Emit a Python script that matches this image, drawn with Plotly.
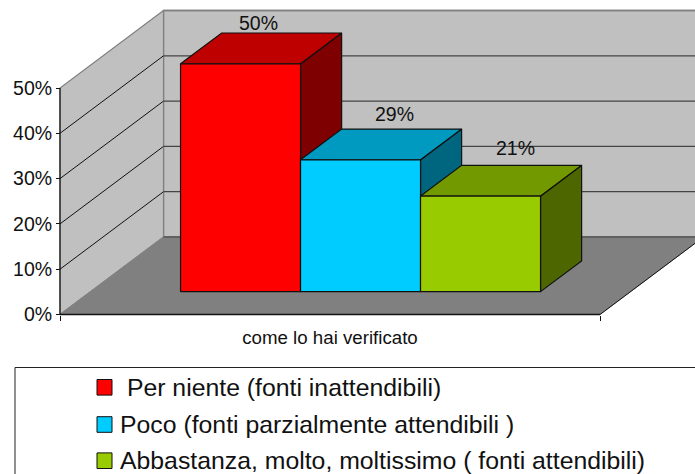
import plotly.graph_objects as go

W, H = 695, 474
categories = ["come lo hai verificato"]
series_names = ["\u00a0Per niente (fonti inattendibili)",
                "Poco (fonti parzialmente attendibili )",
                "Abbastanza, molto, moltissimo ( fonti attendibili)"]
series_values = [50.3, 29.1, 21.1]
value_labels = ["50%", "29%", "21%"]
y_ticks = [0, 10, 20, 30, 40, 50]
front_colors = ["#ff0000", "#00ccff", "#99cc00"]
top_colors = ["#bf0000", "#0099bf", "#739900"]
side_colors = ["#7f0000", "#006680", "#4d6600"]

# scales (pixels per data unit) and the oblique depth projection
PX_X, PX_Y = 120.0, 4.53
X0_PX, Y0_PX = 330.0, 314.5
DX, DY = 103.5 / PX_X, 77.5 / PX_Y
HALF = 2.25
YMAX = 50
D0, D1 = 0.295, 0.692
INK = "#111111"
FONT = "Liberation Sans"


def pr(x, v, d=0.0):
    return x + d * DX, v + d * DY


def poly(pts, fill, line=INK, width=1.2):
    xs, ys = zip(*(pr(*p) for p in pts + [pts[0]]))
    return go.Scatter(x=xs, y=ys, mode="lines", fill="toself", fillcolor=fill,
                      line=dict(color=line, width=width), hoverinfo="skip", showlegend=False)


def seg(a, b, color=INK, width=1.0):
    xs, ys = zip(pr(*a), pr(*b))
    return go.Scatter(x=xs, y=ys, mode="lines", line=dict(color=color, width=width),
                      hoverinfo="skip", showlegend=False)


fig = go.Figure()
# walls and floor
fig.add_trace(poly([(-HALF, 0, 1), (HALF, 0, 1), (HALF, YMAX, 1), (-HALF, YMAX, 1)], "#c0c0c0", "#808080", 1.5))
fig.add_trace(poly([(-HALF, 0, 0), (-HALF, 0, 1), (-HALF, YMAX, 1), (-HALF, YMAX, 0)], "#c0c0c0", "#808080", 1.2))
fig.add_trace(poly([(-HALF, 0, 0), (HALF, 0, 0), (HALF, 0, 1), (-HALF, 0, 1)], "#808080", "#808080", 1))
fig.add_trace(seg((-HALF, 0, 1), (HALF, 0, 1), "#555555", 1.5))
fig.add_trace(seg((HALF, 0, 0), (HALF, 0, 1), INK, 1))
for t in y_ticks[1:-1]:
    fig.add_trace(seg((-HALF, t, 0), (-HALF, t, 1), INK, 1))
    fig.add_trace(seg((-HALF, t, 1), (HALF, t, 1), "#444444", 1.3))
fig.add_trace(seg((-HALF, YMAX, 1), (HALF, YMAX, 1), "#808080", 1.5))

# bars
n = len(series_values)
for i, v in enumerate(series_values):
    a, b = i - n / 2, i - n / 2 + 1
    fig.add_trace(poly([(b, 0, D0), (b, 0, D1), (b, v, D1), (b, v, D0)], side_colors[i]))
    fig.add_trace(poly([(a, v, D0), (b, v, D0), (b, v, D1), (a, v, D1)], top_colors[i]))
    fig.add_trace(poly([(a, 0, D0), (b, 0, D0), (b, v, D0), (a, v, D0)], front_colors[i]))

# axis lines
fig.add_trace(seg((-HALF, 0, 0), (HALF, 0, 0), INK, 1.3))
fig.add_trace(seg((-HALF, 0, 0), (-HALF, YMAX, 0), INK, 1.2))

# value labels above the bars
label_shift = [(48, 64), (64, 69), (65, 71)]
annotations = []
for i, (v, lab) in enumerate(zip(series_values, value_labels)):
    cx = i - n / 2 + 0.5
    annotations.append(dict(x=cx, y=v, xref="x", yref="y", text=lab, showarrow=False,
                            xshift=label_shift[i][0], yshift=label_shift[i][1],
                            font=dict(family=FONT, size=19.5, color=INK)))


def xp(px):
    return px / W


def yp(py):
    return 1 - py / H


# legend frame, swatches and text
shapes = [dict(type="rect", xref="paper", yref="paper", x0=xp(15), x1=xp(W + 20), y0=yp(H + 20), y1=yp(367.5),
               line=dict(color="#222222", width=1), fillcolor="rgba(0,0,0,0)")]
leg_swatch_y = [387.3, 424.5, 460.7]
leg_text_x = [118, 118, 118]
for i, name in enumerate(series_names):
    shapes.append(dict(type="rect", xref="paper", yref="paper", x0=xp(97), x1=xp(112),
                       y0=yp(leg_swatch_y[i] + 7.8), y1=yp(leg_swatch_y[i] - 7.8),
                       fillcolor=front_colors[i], line=dict(color=INK, width=1)))
    annotations.append(dict(x=xp(leg_text_x[i]), y=yp(leg_swatch_y[i]), xref="paper", yref="paper",
                            xanchor="left", yanchor="middle",
                            text=name, showarrow=False, font=dict(family=FONT, size=24.8, color=INK)))

fig.update_layout(
    width=W, height=H, margin=dict(l=0, r=0, t=0, b=0), autosize=False,
    paper_bgcolor="white", plot_bgcolor="white", showlegend=False,
    shapes=shapes, annotations=annotations,
    xaxis=dict(range=[(0 - X0_PX) / PX_X, (W - X0_PX) / PX_X], anchor="free", position=(H - Y0_PX) / H,
               tickmode="array", tickvals=[0], ticktext=categories, ticks="outside", ticklen=6,
               tickcolor="rgba(0,0,0,0)", showgrid=False, zeroline=False, showline=False, fixedrange=True,
               tickfont=dict(family=FONT, size=18.7, color=INK),
               minor=dict(tickmode="array", tickvals=[-HALF, HALF], ticks="outside", ticklen=5,
                          tickcolor=INK, tickwidth=1)),
    yaxis=dict(range=[(Y0_PX - H) / PX_Y, Y0_PX / PX_Y], anchor="free", position=60 / W,
               tickmode="array", tickvals=y_ticks, ticktext=[f"{t}%" for t in y_ticks],
               ticks="outside", ticklen=4, tickcolor=INK, tickwidth=1, showgrid=False, zeroline=False,
               showline=False, fixedrange=True, tickfont=dict(family=FONT, size=19.5, color=INK)),
)
fig.write_html("out.html", config={"displayModeBar": False},
               post_script="document.body.style.margin='0';document.documentElement.style.overflow='hidden';")
